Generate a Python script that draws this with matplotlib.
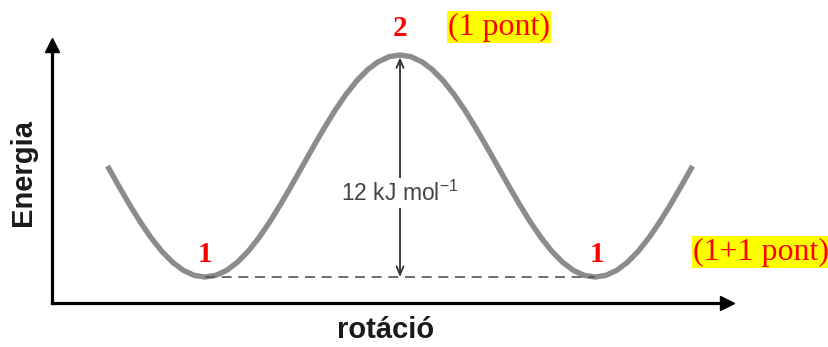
import numpy as np
import matplotlib.pyplot as plt

plt.rcParams['mathtext.fontset'] = 'custom'
plt.rcParams['mathtext.rm'] = 'Liberation Sans'

# energy profile (rotation in degrees, energy in kJ/mol)
rotation = list(range(-90, 451, 10))
energy = [6.0, 4.96, 3.95, 3.0, 2.14, 1.40, 0.80, 0.36, 0.09,
          0.0, 0.09, 0.36, 0.80, 1.40, 2.14, 3.0, 3.95, 4.96,
          6.0, 7.04, 8.05, 9.0, 9.86, 10.60, 11.20, 11.64, 11.91,
          12.0, 11.91, 11.64, 11.20, 10.60, 9.86, 9.0, 8.05, 7.04,
          6.0, 4.96, 3.95, 3.0, 2.14, 1.40, 0.80, 0.36, 0.09,
          0.0, 0.09, 0.36, 0.80, 1.40, 2.14, 3.0, 3.95, 4.96, 6.0]
barrier = 12
minima = [0, 360]
maximum = 180

W, H = 829, 347
fig = plt.figure(figsize=(W / 100, H / 100), dpi=100)
ax = fig.add_axes([52 / W, (H - 303) / H, (727 - 52) / W, (303 - 45) / H])
ax.set_xlim(-141.2, 481.8)
ax.set_ylim(-1.405, 12.54)
ax.set_xticks([])
ax.set_yticks([])
for s in ['top', 'right']:
    ax.spines[s].set_visible(False)
for s in ['left', 'bottom']:
    ax.spines[s].set_linewidth(2.3)
    ax.spines[s].set_color('black')
ax.patch.set_alpha(0)
# axis arrow heads
ax.plot(1, 0, '>', color='black', ms=10, transform=ax.transAxes, clip_on=False)
ax.plot(0, 1, '^', color='black', ms=10, transform=ax.transAxes, clip_on=False)

ax.plot(rotation, energy, color='#8c8c8c', lw=3.9, solid_capstyle='butt',
        solid_joinstyle='round')
ax.plot(minima, [0, 0], color='#555555', lw=1.2, ls=(0, (6, 4)))

ax.annotate('', xy=(maximum, 0), xytext=(maximum, barrier - 0.12),
            arrowprops=dict(arrowstyle='<->,head_length=0.6,head_width=0.25',
                            color='#333333', lw=1.3, shrinkA=0, shrinkB=0))
ax.text(maximum, (277 - 193) / 18.5, '12 kJ mol$^{-1}$', ha='center', va='center',
        fontsize=16.5, color='#444444', family='Liberation Sans',
        bbox=dict(facecolor='white', edgecolor='none', pad=2))

fig.text(23 / W, 1 - 173 / H, 'Energia', rotation=90, ha='center', va='center',
         fontsize=21, fontweight='bold', family='Liberation Sans', color='#1a1a1a')
fig.text(386 / W, 1 - 330 / H, 'rotáció', ha='center', va='center',
         fontsize=21, fontweight='bold', family='Liberation Sans', color='#1a1a1a')

red = dict(color='red', family='Liberation Serif', ha='center', va='center')
fig.text(400 / W, 1 - 28 / H, '2', fontsize=21, fontweight='bold', **red)
fig.text(205 / W, 1 - 254 / H, '1', fontsize=21, fontweight='bold', **red)
fig.text(597 / W, 1 - 254 / H, '1', fontsize=21, fontweight='bold', **red)
fig.text(499 / W, 1 - 27 / H, '(1 pont)', fontsize=23,
         bbox=dict(facecolor='yellow', edgecolor='none', pad=1), **red)
fig.text(761 / W, 1 - 252 / H, '(1+1 pont)', fontsize=23,
         bbox=dict(facecolor='yellow', edgecolor='none', pad=1), **red)

fig.savefig('out.png', dpi=100)
